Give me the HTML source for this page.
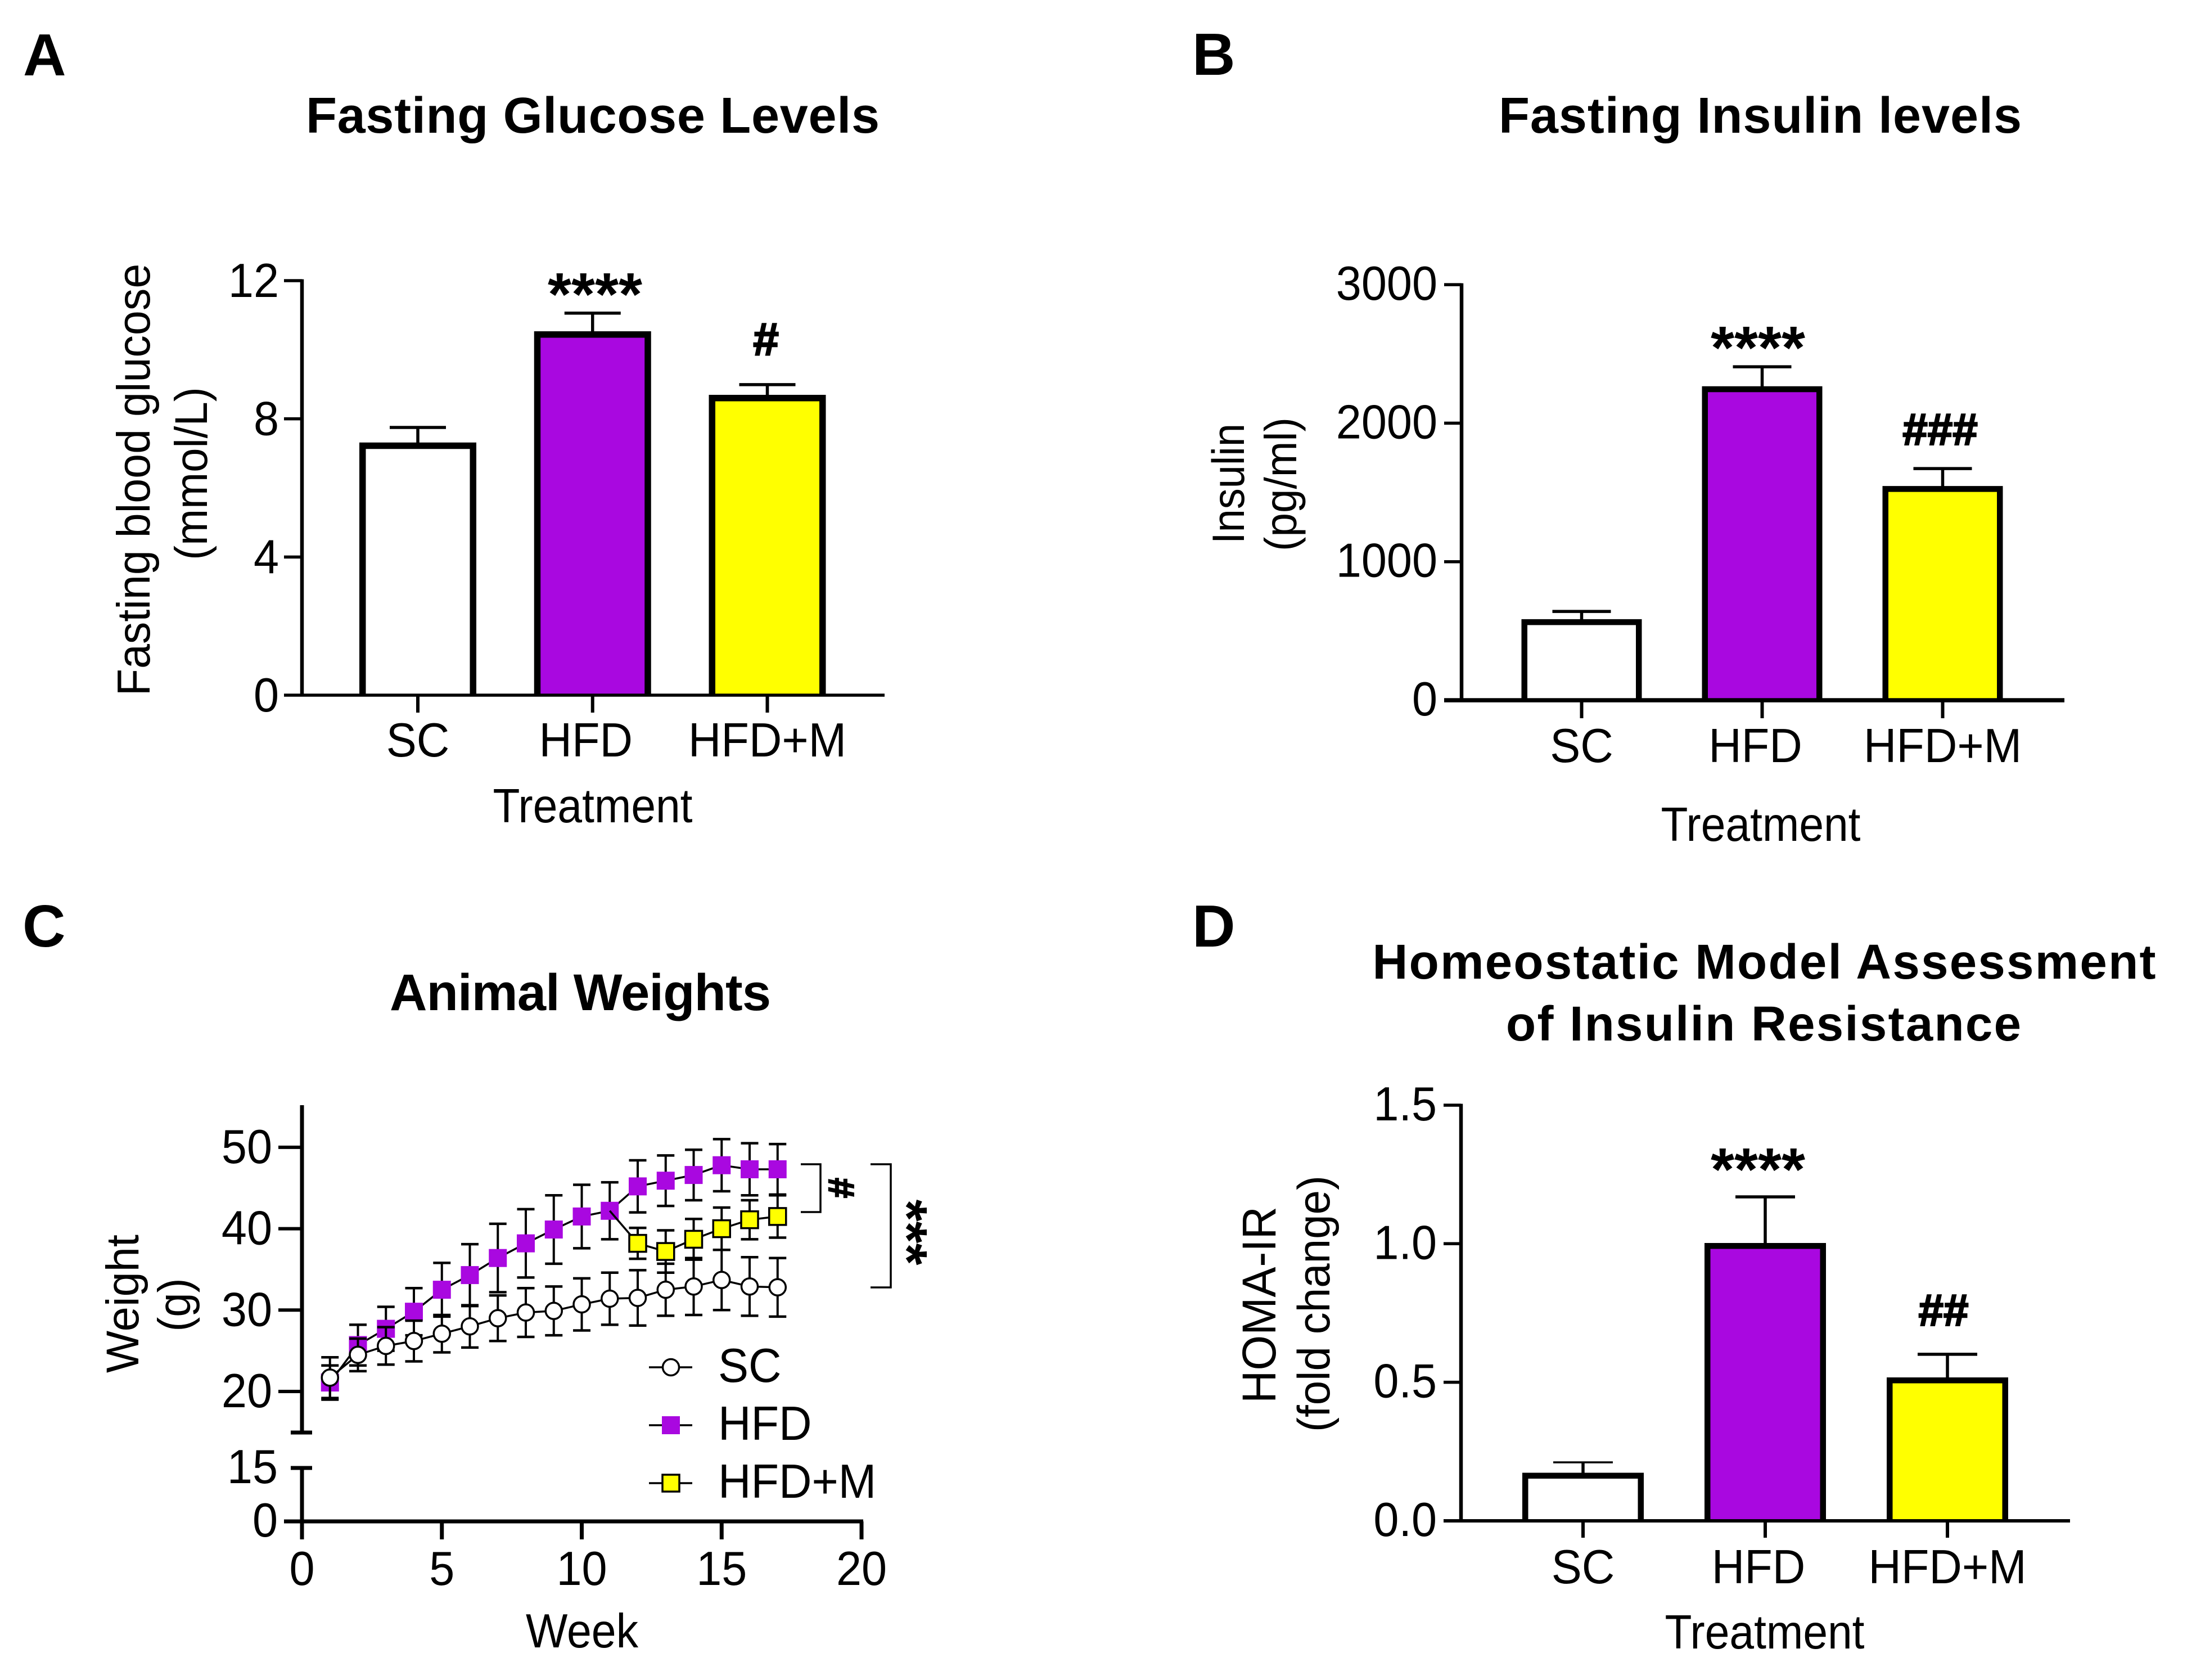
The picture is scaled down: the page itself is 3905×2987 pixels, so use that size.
<!DOCTYPE html>
<html lang="en">
<head>
<meta charset="utf-8">
<title>Metabolic outcomes figure</title>
<style>
html,body{margin:0;padding:0;background:#fff}
svg{display:block}
text{font-family:"Liberation Sans",Arial,sans-serif;fill:#000}
.title,.panel,.sig{font-weight:bold}
.hash{stroke:#000;stroke-width:2.5px}
</style>
</head>
<body>
<svg id="fig" xmlns="http://www.w3.org/2000/svg" width="3905" height="2987" viewBox="0 0 3905 2987">
  <rect width="3905" height="2987" fill="#fff"/>

  <text class="panel" x="41" y="134" font-size="106">A</text>
  <text class="panel" x="2120" y="133" font-size="106">B</text>
  <text class="panel" x="40" y="1683" font-size="106">C</text>
  <text class="panel" x="2120" y="1683" font-size="106">D</text>

  <text class="title" x="1054" y="236" font-size="90" text-anchor="middle" textLength="1020" lengthAdjust="spacing">Fasting Glucose Levels</text>
  <text class="title" x="3130" y="236" font-size="90" text-anchor="middle" textLength="930" lengthAdjust="spacing">Fasting Insulin levels</text>
  <text class="title" x="1032" y="1796" font-size="92" text-anchor="middle" textLength="678" lengthAdjust="spacing">Animal Weights</text>
  <text class="title" x="3137" y="1740" font-size="87" text-anchor="middle" textLength="1393" lengthAdjust="spacing">Homeostatic Model Assessment</text>
  <text class="title" x="3136" y="1850" font-size="87" text-anchor="middle" textLength="916" lengthAdjust="spacing">of Insulin Resistance</text>

  <text x="266" y="853" font-size="79" text-anchor="middle" transform="rotate(-90 266 853)">Fasting blood glucose</text>
  <text x="368" y="842" font-size="78" text-anchor="middle" transform="rotate(-90 368 842)">(mmol/L)</text>
  <text x="2212" y="860" font-size="77" text-anchor="middle" textLength="214" transform="rotate(-90 2212 860)">Insulin</text>
  <text x="2305" y="861" font-size="76" text-anchor="middle" textLength="238" transform="rotate(-90 2305 861)">(pg/ml)</text>
  <text x="246" y="2318" font-size="78" text-anchor="middle" textLength="246" transform="rotate(-90 246 2318)">Weight</text>
  <text x="338" y="2320" font-size="78" text-anchor="middle" transform="rotate(-90 338 2320)">(g)</text>
  <text x="2268" y="2320" font-size="80" text-anchor="middle" textLength="350" transform="rotate(-90 2268 2320)">HOMA-IR</text>
  <text x="2364" y="2318" font-size="77" text-anchor="middle" textLength="456" transform="rotate(-90 2364 2318)">(fold change)</text>

  <text x="1054" y="1462" font-size="81" text-anchor="middle" textLength="355">Treatment</text>
  <text x="3131" y="1495" font-size="81" text-anchor="middle" textLength="355">Treatment</text>
  <text x="1035" y="2929" font-size="81" text-anchor="middle" textLength="200">Week</text>
  <text x="3138" y="2931" font-size="81" text-anchor="middle" textLength="355">Treatment</text>

  <g id="plot-a"></g>
  <g id="plot-b"></g>
  <g id="plot-c"></g>
  <g id="plot-d"></g>

  <text class="sig" x="1058" y="560" font-size="108" text-anchor="middle">****</text>
  <text class="sig hash" x="1362" y="631" font-size="82" text-anchor="middle">#</text>
  <text class="sig" x="3126" y="655" font-size="108" text-anchor="middle">****</text>
  <text class="sig hash" x="3450" y="791" font-size="80" text-anchor="middle">###</text>
  <text class="sig" x="3126" y="2116" font-size="108" text-anchor="middle">****</text>
  <text class="sig hash" x="3456" y="2357" font-size="80" text-anchor="middle">##</text>

  <polyline points="1424,2070 1459,2070 1459,2155 1424,2155" fill="none" stroke="#000" stroke-width="3.5"/>
  <polyline points="1548,2070 1584,2070 1584,2289 1548,2289" fill="none" stroke="#000" stroke-width="3.5"/>
  <text class="sig hash" x="1474" y="2112" font-size="64" text-anchor="middle" transform="rotate(90 1474 2112)">#</text>
  <text class="sig" x="1579" y="2191" font-size="100" text-anchor="middle" transform="rotate(90 1579 2191)">***</text>
</svg>

<script>
// ---- shared categories and colours
const categories = ['SC', 'HFD', 'HFD+M'];
const barFills = ['#ffffff', '#a908e0', '#ffff00'];

// ---- Panel A: fasting glucose
const glucoseMeans = [7.22, 10.44, 8.6];
const glucoseErrors = [0.53, 0.62, 0.39];
const glucoseTicks = [0, 4, 8, 12];
const glucoseTickLabels = ['0', '4', '8', '12'];

// ---- Panel B: fasting insulin
const insulinMeans = [564, 2245, 1525];
const insulinErrors = [77, 162, 147];
const insulinTicks = [0, 1000, 2000, 3000];
const insulinTickLabels = ['0', '1000', '2000', '3000'];

// ---- Panel D: HOMA-IR
const homaMeans = [0.163, 0.992, 0.507];
const homaErrors = [0.048, 0.177, 0.094];
const homaTicks = [0, 0.5, 1, 1.5];
const homaTickLabels = ['0.0', '0.5', '1.0', '1.5'];

// ---- Panel C: animal weights
const weeks = [1, 2, 3, 4, 5, 6, 7, 8, 9, 10, 11, 12, 13, 14, 15, 16, 17];
const scWeight = [21.7, 24.5, 25.6, 26.2, 27.1, 28.0, 29.0, 29.7, 29.9, 30.7, 31.4, 31.5, 32.5, 32.9, 33.7, 32.9, 32.8];
const scError = [2.5, 2.0, 2.3, 2.5, 2.3, 2.6, 2.8, 3.0, 3.0, 3.2, 3.2, 3.4, 3.2, 3.5, 3.7, 3.6, 3.6];
const hfdWeight = [21.1, 25.7, 27.7, 29.8, 32.5, 34.3, 36.4, 38.2, 39.9, 41.5, 42.2, 45.2, 45.9, 46.6, 47.8, 47.3, 47.3];
const hfdError = [2.1, 2.5, 2.7, 2.9, 3.3, 3.8, 4.2, 4.2, 4.2, 3.9, 3.5, 3.2, 3.1, 3.1, 3.2, 3.2, 3.1];
const hfdmWeeks = [12, 13, 14, 15, 16, 17];
const hfdmWeight = [38.2, 37.2, 38.7, 40.0, 41.1, 41.5];
const hfdmError = [1.9, 2.6, 2.5, 2.6, 2.4, 2.6];
const weightUpperTicks = [20, 30, 40, 50];
const weightUpperTickLabels = ['20', '30', '40', '50'];
const weightLowerTicks = [0, 15];
const weightLowerTickLabels = ['0', '15'];
const weekTicks = [0, 5, 10, 15, 20];
const weekTickLabels = ['0', '5', '10', '15', '20'];

const NS = 'http://www.w3.org/2000/svg';

function mk(parent, tag, attrs, name) {
  const el = document.createElementNS(NS, tag);
  for (const k in attrs) el.setAttribute(k, attrs[k]);
  
  
  parent.appendChild(el);
  return el;
}
function seg(parent, x1, y1, x2, y2, w, name) {
  return mk(parent, 'line', {x1: x1, y1: y1, x2: x2, y2: y2, stroke: '#000', 'stroke-width': w}, name);
}
function label(parent, x, y, str, anchor, name) {
  const t = mk(parent, 'text', {x: x, y: y, 'font-size': 81, 'text-anchor': anchor}, name);
  t.textContent = str;
  return t;
}

function barChart(o) {
  const g = document.getElementById(o.id);
  const yOf = v => o.yZero - v * o.yPerUnit;
  const xOf = i => o.xFirst + i * o.xStep;

  o.means.forEach((m, i) => {
    const cx = xOf(i), half = (o.barOuter - o.border) / 2;
    const topY = yOf(m), capY = yOf(m + o.errors[i]);
    seg(g, cx, topY, cx, capY, 5.5, 'error-stem-' + categories[i]);
    seg(g, cx - o.capW / 2, capY, cx + o.capW / 2, capY, i === 0 && o.thinFirstCap ? 3.5 : 5.5, 'error-cap-' + categories[i]);
    // open-bottomed outline: the bars sit on the axis with no base stroke
    const d = 'M' + (cx - half) + ' ' + o.yZero + 'V' + topY + 'H' + (cx + half) + 'V' + o.yZero;
    mk(g, 'path', {d: d, fill: barFills[i], stroke: '#000', 'stroke-width': o.border}, 'bar-' + categories[i]);
  });

  seg(g, o.xAxis, yOf(o.ticks[o.ticks.length - 1]) - 2.5, o.xAxis, o.yZero, 6.5, 'y-axis-line');
  seg(g, o.xLeft, o.yZero, o.xRight, o.yZero, o.axisW, 'x-axis-line');
  o.ticks.forEach((t, i) => {
    if (i > 0) seg(g, o.xLeft, yOf(t), o.xAxis, yOf(t), 5.5, 'y-tick-' + o.tickLabels[i]);
    label(g, o.xTickRight, yOf(t) + o.tickDrop, o.tickLabels[i], 'end', 'y-tick-label-' + o.tickLabels[i]);
  });
  categories.forEach((c, i) => {
    seg(g, xOf(i), o.yZero, xOf(i), o.tickBottom, 6, 'x-tick-' + c);
    label(g, xOf(i) + (i === 1 ? -12 : 0), o.catBaseline, c, 'middle', 'x-tick-label-' + c);
  });
}

barChart({id: 'plot-a', means: glucoseMeans, errors: glucoseErrors, ticks: glucoseTicks, tickLabels: glucoseTickLabels,
  yZero: 1236, yPerUnit: 61.42, xFirst: 743, xStep: 310.75, barOuter: 208, border: 11.5, capW: 100, xAxis: 537, xLeft: 505, xRight: 1573,
  axisW: 5.5, xTickRight: 496, tickDrop: 29, tickBottom: 1267, catBaseline: 1345});
barChart({id: 'plot-b', means: insulinMeans, errors: insulinErrors, ticks: insulinTicks, tickLabels: insulinTickLabels,
  yZero: 1245, yPerUnit: 0.2463, xFirst: 2812.5, xStep: 321, barOuter: 214, border: 10.5, capW: 104, xAxis: 2599, xLeft: 2568, xRight: 3671,
  axisW: 7.5, xTickRight: 2556, tickDrop: 27, tickBottom: 1277, catBaseline: 1355});
barChart({id: 'plot-d', means: homaMeans, errors: homaErrors, ticks: homaTicks, tickLabels: homaTickLabels,
  yZero: 2704, yPerUnit: 492.7, xFirst: 2815, xStep: 324, barOuter: 216, border: 10.5, capW: 106, xAxis: 2598, xLeft: 2567, xRight: 3681,
  axisW: 6, xTickRight: 2555, tickDrop: 27, tickBottom: 2734, catBaseline: 2815, thinFirstCap: true});

// ---- line chart with a broken y axis
(function () {
  const g = document.getElementById('plot-c');
  const xOf = w => 537 + w * 49.75;
  const yUp = v => 2474 - (v - 20) * 14.47;
  const yLow = v => 2705 - v * 6.33;

  function series(name, xs, vals, errs, drawMarker) {
    const pts = xs.map((w, i) => xOf(w) + ',' + yUp(vals[i])).join(' ');
    mk(g, 'polyline', {points: pts, fill: 'none', stroke: '#000', 'stroke-width': 3.5}, 'line-' + name);
    xs.forEach((w, i) => {
      const x = xOf(w), hi = yUp(vals[i] + errs[i]), lo = yUp(vals[i] - errs[i]);
      seg(g, x, hi, x, lo, 4, 'error-stem-' + name + '-week-' + w);
      seg(g, x - 15.5, hi, x + 15.5, hi, 4.5, 'error-cap-upper-' + name + '-week-' + w);
      seg(g, x - 15.5, lo, x + 15.5, lo, 4.5, 'error-cap-lower-' + name + '-week-' + w);
    });
    xs.forEach((w, i) => drawMarker(xOf(w), yUp(vals[i]), name + '-week-' + w));
  }
  const squarePurple = (x, y, n) => mk(g, 'rect', {x: x - 16, y: y - 16, width: 32, height: 32, fill: '#a908e0'}, 'point-' + n);
  const squareYellow = (x, y, n) => mk(g, 'rect', {x: x - 15, y: y - 15, width: 30, height: 30, fill: '#ffff00', stroke: '#000', 'stroke-width': 3.5}, 'point-' + n);
  const circleWhite = (x, y, n) => mk(g, 'circle', {cx: x, cy: y, r: 14.5, fill: '#fff', stroke: '#000', 'stroke-width': 3.5}, 'point-' + n);

  series('hfd', weeks, hfdWeight, hfdError, squarePurple);
  const lastSharedWeek = hfdmWeeks[0] - 1;
  seg(g, xOf(lastSharedWeek), yUp(hfdWeight[weeks.indexOf(lastSharedWeek)]), xOf(hfdmWeeks[0]), yUp(hfdmWeight[0]), 3.5, 'line-hfd-to-hfdm-connector');
  series('hfdm', hfdmWeeks, hfdmWeight, hfdmError, squareYellow);
  series('sc', weeks, scWeight, scError, circleWhite);

  // axes
  seg(g, 537, 1965, 537, 2547, 7, 'y-axis-upper-segment');
  seg(g, 517, 2547, 555, 2547, 7, 'y-axis-upper-end-cap');
  seg(g, 537, yLow(15), 537, 2705, 7, 'y-axis-lower-segment');
  seg(g, 517, yLow(15), 555, yLow(15), 7, 'y-axis-lower-end-cap');
  seg(g, 505, 2705, xOf(20) + 3, 2705, 7, 'x-axis-line');
  weightUpperTicks.forEach((t, i) => {
    seg(g, 495, yUp(t), 537, yUp(t), 6, 'y-tick-' + weightUpperTickLabels[i]);
    label(g, 484, yUp(t) + 28, weightUpperTickLabels[i], 'end', 'y-tick-label-' + weightUpperTickLabels[i]);
  });
  weightLowerTicks.forEach((t, i) => {
    label(g, 494, yLow(t) + 27, weightLowerTickLabels[i], 'end', 'y-tick-label-' + weightLowerTickLabels[i]);
  });
  weekTicks.forEach((t, i) => {
    seg(g, xOf(t), 2705, xOf(t), 2737, 7, 'x-tick-' + weekTickLabels[i]);
    label(g, xOf(t), 2818, weekTickLabels[i], 'middle', 'x-tick-label-' + weekTickLabels[i]);
  });

  // legend
  const legendMarkers = [circleWhite, squarePurple, squareYellow];
  categories.forEach((c, i) => {
    const ly = 2431 + i * 103;
    seg(g, 1154, ly, 1231, ly, 3.5, 'legend-line-' + c);
    legendMarkers[i](1193, ly, 'legend-' + c);
    label(g, 1277, ly + 26, c, 'start', 'legend-label-' + c);
  });
})();

// The reference glyphs are slightly taller for the same advance width:
// enlarge regular text and hold its original length.
document.querySelectorAll('#fig text:not(.title):not(.panel):not(.sig)').forEach(t => {
  const size = parseFloat(t.getAttribute('font-size'));
  const length = t.getAttribute('textLength') || t.getComputedTextLength();
  t.setAttribute('font-size', size * 1.05);
  t.setAttribute('textLength', length);
  t.setAttribute('lengthAdjust', 'spacingAndGlyphs');
});
</script>
</body>
</html>
